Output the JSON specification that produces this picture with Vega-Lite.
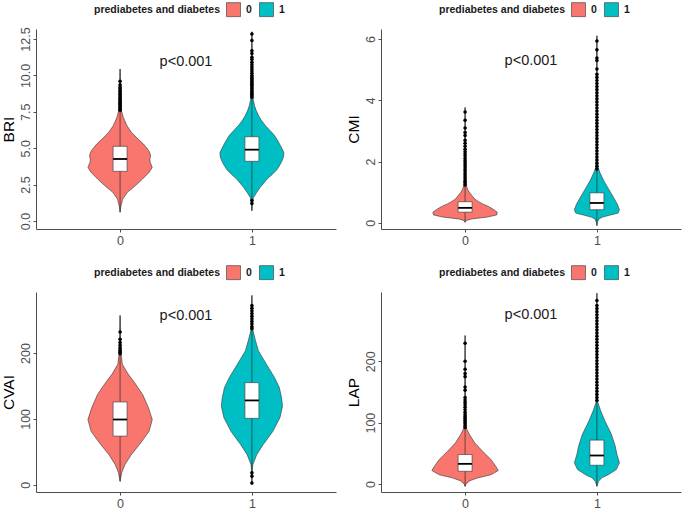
{
"$schema": "https://vega.github.io/schema/vega-lite/v6.json",
"padding": {"left": 0, "top": 2, "right": 5, "bottom": 0},
"datasets": {
"bri_v": [
{"g":0,"v":0.6,"w":0},{"g":0,"v":1.05,"w":0.007},{"g":0,"v":1.51,"w":0.02},{"g":0,"v":1.97,"w":0.055},{"g":0,"v":2.42,"w":0.115},{"g":0,"v":2.88,"w":0.17},{"g":0,"v":3.34,"w":0.22},{"g":0,"v":3.69,"w":0.244},{"g":0,"v":4.03,"w":0.228},{"g":0,"v":4.26,"w":0.226},{"g":0,"v":4.49,"w":0.232},{"g":0,"v":4.75,"w":0.222},{"g":0,"v":4.95,"w":0.208},{"g":0,"v":5.3,"w":0.176},{"g":0,"v":5.63,"w":0.136},{"g":0,"v":6.09,"w":0.086},{"g":0,"v":6.55,"w":0.052},{"g":0,"v":7.12,"w":0.024},{"g":0,"v":7.69,"w":0.007},{"g":0,"v":8.38,"w":0.003},{"g":0,"v":9.5,"w":0.002},{"g":0,"v":10.44,"w":0},
{"g":1,"v":0.7,"w":0},{"g":1,"v":1.2,"w":0.004},{"g":1,"v":1.6,"w":0.011},{"g":1,"v":1.97,"w":0.037},{"g":1,"v":2.3,"w":0.062},{"g":1,"v":2.54,"w":0.084},{"g":1,"v":2.9,"w":0.117},{"g":1,"v":3.2,"w":0.154},{"g":1,"v":3.5,"w":0.187},{"g":1,"v":3.8,"w":0.209},{"g":1,"v":4.1,"w":0.227},{"g":1,"v":4.4,"w":0.24},{"g":1,"v":4.7,"w":0.242},{"g":1,"v":5.0,"w":0.227},{"g":1,"v":5.3,"w":0.209},{"g":1,"v":5.6,"w":0.191},{"g":1,"v":5.9,"w":0.169},{"g":1,"v":6.2,"w":0.139},{"g":1,"v":6.55,"w":0.103},{"g":1,"v":6.9,"w":0.073},{"g":1,"v":7.23,"w":0.051},{"g":1,"v":7.6,"w":0.032},{"g":1,"v":7.92,"w":0.02},{"g":1,"v":8.3,"w":0.011},{"g":1,"v":8.6,"w":0.006},{"g":1,"v":9.5,"w":0.003},{"g":1,"v":11,"w":0.002},{"g":1,"v":13.0,"w":0}
],
"bri_b": [{"g":0,"lo":0.6,"q1":3.41,"med":4.26,"q3":5.13,"hi":10.44},{"g":1,"lo":0.7,"q1":4.1,"med":4.9,"q3":5.79,"hi":13.0}],
"bri_o": [
{"g":0,"v":7.6},{"g":0,"v":7.68},{"g":0,"v":7.76},{"g":0,"v":7.84},{"g":0,"v":7.92},{"g":0,"v":8.0},{"g":0,"v":8.08},{"g":0,"v":8.16},{"g":0,"v":8.24},{"g":0,"v":8.32},{"g":0,"v":8.4},{"g":0,"v":8.5},{"g":0,"v":8.6},{"g":0,"v":8.7},{"g":0,"v":8.8},{"g":0,"v":8.9},{"g":0,"v":9.0},{"g":0,"v":9.1},{"g":0,"v":9.2},{"g":0,"v":9.35},{"g":0,"v":9.6},
{"g":1,"v":1.2},{"g":1,"v":1.4},{"g":1,"v":8.5},{"g":1,"v":8.6},{"g":1,"v":8.7},{"g":1,"v":8.8},{"g":1,"v":8.9},{"g":1,"v":9.0},{"g":1,"v":9.1},{"g":1,"v":9.2},{"g":1,"v":9.3},{"g":1,"v":9.4},{"g":1,"v":9.5},{"g":1,"v":9.6},{"g":1,"v":9.7},{"g":1,"v":9.8},{"g":1,"v":9.9},{"g":1,"v":10.0},{"g":1,"v":10.15},{"g":1,"v":10.3},{"g":1,"v":10.45},{"g":1,"v":10.6},{"g":1,"v":10.75},{"g":1,"v":10.9},{"g":1,"v":11.1},{"g":1,"v":11.25},{"g":1,"v":11.5},{"g":1,"v":11.7},{"g":1,"v":12.4},{"g":1,"v":12.85}
],
"cmi_v": [
{"g":0,"v":0.02,"w":0},{"g":0,"v":0.075,"w":0.007},{"g":0,"v":0.13,"w":0.05},{"g":0,"v":0.19,"w":0.17},{"g":0,"v":0.26,"w":0.24},{"g":0,"v":0.35,"w":0.244},{"g":0,"v":0.46,"w":0.208},{"g":0,"v":0.55,"w":0.17},{"g":0,"v":0.62,"w":0.134},{"g":0,"v":0.7,"w":0.1},{"g":0,"v":0.78,"w":0.073},{"g":0,"v":0.9,"w":0.05},{"g":0,"v":1.0,"w":0.032},{"g":0,"v":1.1,"w":0.018},{"g":0,"v":1.27,"w":0.007},{"g":0,"v":1.5,"w":0.004},{"g":0,"v":2.5,"w":0.002},{"g":0,"v":3.77,"w":0},
{"g":1,"v":-0.09,"w":0},{"g":1,"v":0.02,"w":0.004},{"g":1,"v":0.13,"w":0.015},{"g":1,"v":0.19,"w":0.044},{"g":1,"v":0.24,"w":0.088},{"g":1,"v":0.32,"w":0.161},{"g":1,"v":0.43,"w":0.171},{"g":1,"v":0.62,"w":0.154},{"g":1,"v":0.84,"w":0.125},{"g":1,"v":1.11,"w":0.088},{"g":1,"v":1.38,"w":0.051},{"g":1,"v":1.65,"w":0.022},{"g":1,"v":1.82,"w":0.008},{"g":1,"v":2.2,"w":0.004},{"g":1,"v":4.0,"w":0.002},{"g":1,"v":6.11,"w":0}
],
"cmi_b": [{"g":0,"lo":0.02,"q1":0.35,"med":0.49,"q3":0.69,"hi":3.77},{"g":1,"lo":-0.09,"q1":0.43,"med":0.65,"q3":0.98,"hi":6.11}],
"cmi_o": [
{"g":0,"v":1.24},{"g":0,"v":1.3},{"g":0,"v":1.36},{"g":0,"v":1.43},{"g":0,"v":1.5},{"g":0,"v":1.56},{"g":0,"v":1.63},{"g":0,"v":1.7},{"g":0,"v":1.76},{"g":0,"v":1.83},{"g":0,"v":1.9},{"g":0,"v":1.96},{"g":0,"v":2.03},{"g":0,"v":2.1},{"g":0,"v":2.18},{"g":0,"v":2.25},{"g":0,"v":2.32},{"g":0,"v":2.4},{"g":0,"v":2.5},{"g":0,"v":2.6},{"g":0,"v":2.7},{"g":0,"v":2.85},{"g":0,"v":2.95},{"g":0,"v":3.1},{"g":0,"v":3.35},{"g":0,"v":3.62},
{"g":1,"v":1.76},{"g":1,"v":1.85},{"g":1,"v":1.95},{"g":1,"v":2.05},{"g":1,"v":2.15},{"g":1,"v":2.25},{"g":1,"v":2.35},{"g":1,"v":2.45},{"g":1,"v":2.55},{"g":1,"v":2.65},{"g":1,"v":2.75},{"g":1,"v":2.85},{"g":1,"v":2.95},{"g":1,"v":3.05},{"g":1,"v":3.15},{"g":1,"v":3.25},{"g":1,"v":3.35},{"g":1,"v":3.45},{"g":1,"v":3.55},{"g":1,"v":3.65},{"g":1,"v":3.75},{"g":1,"v":3.85},{"g":1,"v":3.95},{"g":1,"v":4.05},{"g":1,"v":4.15},{"g":1,"v":4.25},{"g":1,"v":4.35},{"g":1,"v":4.45},{"g":1,"v":4.55},{"g":1,"v":4.65},{"g":1,"v":4.75},{"g":1,"v":4.85},{"g":1,"v":5.02},{"g":1,"v":5.3},{"g":1,"v":5.38},{"g":1,"v":5.65},{"g":1,"v":5.94}
],
"cvai_v": [
{"g":0,"v":5,"w":0},{"g":0,"v":18,"w":0.012},{"g":0,"v":30.5,"w":0.037},{"g":0,"v":46,"w":0.086},{"g":0,"v":61,"w":0.147},{"g":0,"v":81,"w":0.22},{"g":0,"v":99,"w":0.244},{"g":0,"v":117,"w":0.215},{"g":0,"v":137,"w":0.171},{"g":0,"v":155,"w":0.11},{"g":0,"v":168,"w":0.061},{"g":0,"v":183,"w":0.017},{"g":0,"v":199.5,"w":0.007},{"g":0,"v":215,"w":0.004},{"g":0,"v":235,"w":0.002},{"g":0,"v":257,"w":0},
{"g":1,"v":0,"w":0},{"g":1,"v":20,"w":0.002},{"g":1,"v":30.5,"w":0.007},{"g":1,"v":46,"w":0.037},{"g":1,"v":61,"w":0.086},{"g":1,"v":81,"w":0.159},{"g":1,"v":102,"w":0.213},{"g":1,"v":119.5,"w":0.232},{"g":1,"v":132,"w":0.225},{"g":1,"v":147.6,"w":0.208},{"g":1,"v":163,"w":0.171},{"g":1,"v":183,"w":0.11},{"g":1,"v":203.6,"w":0.049},{"g":1,"v":219,"w":0.027},{"g":1,"v":235,"w":0.007},{"g":1,"v":250,"w":0.003},{"g":1,"v":287.5,"w":0}
],
"cvai_b": [{"g":0,"lo":5,"q1":73.8,"med":99,"q3":125.7,"hi":257},{"g":1,"lo":0,"q1":100.8,"med":128,"q3":155,"hi":287.5}],
"cvai_o": [
{"g":0,"v":199},{"g":0,"v":201},{"g":0,"v":203},{"g":0,"v":205},{"g":0,"v":208},{"g":0,"v":212},{"g":0,"v":216},{"g":0,"v":221},{"g":0,"v":232},
{"g":1,"v":2.5},{"g":1,"v":13},{"g":1,"v":18},{"g":1,"v":237},{"g":1,"v":240},{"g":1,"v":244},{"g":1,"v":248},{"g":1,"v":252},{"g":1,"v":256},{"g":1,"v":260},{"g":1,"v":264},{"g":1,"v":268},{"g":1,"v":272}
],
"lap_v": [
{"g":0,"v":-4,"w":0},{"g":0,"v":0,"w":0.007},{"g":0,"v":5.4,"w":0.037},{"g":0,"v":10,"w":0.098},{"g":0,"v":15,"w":0.196},{"g":0,"v":22,"w":0.252},{"g":0,"v":29,"w":0.232},{"g":0,"v":40,"w":0.196},{"g":0,"v":53,"w":0.134},{"g":0,"v":67,"w":0.073},{"g":0,"v":81,"w":0.032},{"g":0,"v":92,"w":0.007},{"g":0,"v":110,"w":0.003},{"g":0,"v":150,"w":0.002},{"g":0,"v":242,"w":0},
{"g":1,"v":-4,"w":0},{"g":1,"v":4.3,"w":0.012},{"g":1,"v":10,"w":0.037},{"g":1,"v":15,"w":0.086},{"g":1,"v":23.4,"w":0.147},{"g":1,"v":34.4,"w":0.171},{"g":1,"v":48,"w":0.152},{"g":1,"v":61.7,"w":0.139},{"g":1,"v":81,"w":0.11},{"g":1,"v":102.6,"w":0.061},{"g":1,"v":119,"w":0.029},{"g":1,"v":133,"w":0.007},{"g":1,"v":160,"w":0.003},{"g":1,"v":250,"w":0.002},{"g":1,"v":311,"w":0}
],
"lap_b": [{"g":0,"lo":-4,"q1":20.7,"med":32.8,"q3":48,"hi":242},{"g":1,"lo":-4,"q1":30.5,"med":46.4,"q3":71.5,"hi":311}],
"lap_o": [
{"g":0,"v":92},{"g":0,"v":95},{"g":0,"v":98},{"g":0,"v":101},{"g":0,"v":104},{"g":0,"v":107},{"g":0,"v":110},{"g":0,"v":113},{"g":0,"v":117},{"g":0,"v":121},{"g":0,"v":125},{"g":0,"v":129},{"g":0,"v":133},{"g":0,"v":137},{"g":0,"v":141},{"g":0,"v":153},{"g":0,"v":158},{"g":0,"v":175},{"g":0,"v":180},{"g":0,"v":187},{"g":0,"v":200},{"g":0,"v":229.5},
{"g":1,"v":136},{"g":1,"v":141},{"g":1,"v":146},{"g":1,"v":151},{"g":1,"v":156},{"g":1,"v":161},{"g":1,"v":166},{"g":1,"v":171},{"g":1,"v":176},{"g":1,"v":181},{"g":1,"v":186},{"g":1,"v":191},{"g":1,"v":196},{"g":1,"v":201},{"g":1,"v":206},{"g":1,"v":211},{"g":1,"v":216},{"g":1,"v":221},{"g":1,"v":226},{"g":1,"v":231},{"g":1,"v":236},{"g":1,"v":241},{"g":1,"v":246},{"g":1,"v":251},{"g":1,"v":256},{"g":1,"v":261},{"g":1,"v":266},{"g":1,"v":271},{"g":1,"v":276},{"g":1,"v":281},{"g":1,"v":286},{"g":1,"v":291},{"g":1,"v":299}
]
},
"columns": 2,
"spacing": {"row": 18, "column": 10},
"concat": [
{"width": 300, "height": 200, "layer": [
 {"data": {"name": "bri_v"}, "transform": [{"calculate": "datum.g - datum.w", "as": "lo"}, {"calculate": "datum.g + datum.w", "as": "hi"}],
  "mark": {"type": "area", "orient": "horizontal", "stroke": "#333333", "strokeWidth": 0.6, "opacity": 1},
  "encoding": {
   "y": {"field": "v", "type": "quantitative", "title": "BRI", "scale": {"domain": [-0.55, 13.19], "nice": false, "zero": false}, "axis": {"values": [0, 2.5, 5, 7.5, 10, 12.5], "format": ".1f", "labelOverlap": false}},
   "x": {"field": "lo", "type": "quantitative", "title": null, "stack": null, "scale": {"domain": [-0.6, 1.6], "nice": false, "zero": false}, "axis": {"values": [0, 1], "format": "d"}},
   "x2": {"field": "hi"},
   "color": {"field": "g", "type": "nominal", "scale": {"domain": [0, 1], "range": ["#F8766D", "#00BFC4"]}, "legend": {"orient": "none", "legendX": 58, "legendY": -27, "direction": "horizontal", "titleOrient": "left", "title": "prediabetes and diabetes"}}
  }},
 {"data": {"name": "bri_b"}, "mark": {"type": "rule", "color": "#1a1a1a", "strokeWidth": 0.6},
  "encoding": {"x": {"field": "g", "type": "quantitative", "title": null, "axis": {"values": [0, 1], "format": "d"}}, "y": {"field": "lo", "type": "quantitative", "title": "BRI", "axis": {"values": [0, 2.5, 5, 7.5, 10, 12.5], "format": ".1f", "labelOverlap": false}}, "y2": {"field": "hi"}}},
 {"data": {"name": "bri_b"}, "mark": {"type": "bar", "width": 14, "fill": "white", "stroke": "#333333", "strokeWidth": 0.6},
  "encoding": {"x": {"field": "g", "type": "quantitative", "title": null, "axis": {"values": [0, 1], "format": "d"}}, "y": {"field": "q1", "type": "quantitative", "title": "BRI", "axis": {"values": [0, 2.5, 5, 7.5, 10, 12.5], "format": ".1f", "labelOverlap": false}}, "y2": {"field": "q3"}}},
 {"data": {"name": "bri_b"}, "mark": {"type": "tick", "orient": "horizontal", "size": 14, "thickness": 1.8, "color": "#000000", "opacity": 1},
  "encoding": {"x": {"field": "g", "type": "quantitative", "title": null, "axis": {"values": [0, 1], "format": "d"}}, "y": {"field": "med", "type": "quantitative", "title": "BRI", "axis": {"values": [0, 2.5, 5, 7.5, 10, 12.5], "format": ".1f", "labelOverlap": false}}}},
 {"data": {"name": "bri_o"}, "mark": {"type": "circle", "size": 13, "color": "#000000", "opacity": 1},
  "encoding": {"x": {"field": "g", "type": "quantitative", "title": null, "axis": {"values": [0, 1], "format": "d"}}, "y": {"field": "v", "type": "quantitative", "title": "BRI", "axis": {"values": [0, 2.5, 5, 7.5, 10, 12.5], "format": ".1f", "labelOverlap": false}}}},
 {"data": {"values": [{}]}, "mark": {"type": "text", "fontSize": 14.5, "color": "#1a1a1a", "text": "p<0.001"},
  "encoding": {"x": {"datum": 0.5, "type": "quantitative", "title": null, "axis": {"values": [0, 1], "format": "d"}}, "y": {"datum": 10.9, "type": "quantitative", "title": "BRI", "axis": {"values": [0, 2.5, 5, 7.5, 10, 12.5], "format": ".1f", "labelOverlap": false}}}}
]},
{"width": 300, "height": 200, "layer": [
 {"data": {"name": "cmi_v"}, "transform": [{"calculate": "datum.g - datum.w", "as": "lo"}, {"calculate": "datum.g + datum.w", "as": "hi"}],
  "mark": {"type": "area", "orient": "horizontal", "stroke": "#333333", "strokeWidth": 0.6, "opacity": 1},
  "encoding": {
   "y": {"field": "v", "type": "quantitative", "title": "CMI", "scale": {"domain": [-0.2, 6.33], "nice": false, "zero": false}, "axis": {"values": [0, 2, 4, 6], "format": "d", "labelOverlap": false}},
   "x": {"field": "lo", "type": "quantitative", "title": null, "stack": null, "scale": {"domain": [-0.6, 1.6], "nice": false, "zero": false}, "axis": {"values": [0, 1], "format": "d"}},
   "x2": {"field": "hi"},
   "color": {"field": "g", "type": "nominal", "scale": {"domain": [0, 1], "range": ["#F8766D", "#00BFC4"]}, "legend": {"orient": "none", "legendX": 58, "legendY": -27, "direction": "horizontal", "titleOrient": "left", "title": "prediabetes and diabetes"}}
  }},
 {"data": {"name": "cmi_b"}, "mark": {"type": "rule", "color": "#1a1a1a", "strokeWidth": 0.6},
  "encoding": {"x": {"field": "g", "type": "quantitative", "title": null}, "y": {"field": "lo", "type": "quantitative", "title": "CMI"}, "y2": {"field": "hi"}}},
 {"data": {"name": "cmi_b"}, "mark": {"type": "bar", "width": 14, "fill": "white", "stroke": "#333333", "strokeWidth": 0.6},
  "encoding": {"x": {"field": "g", "type": "quantitative", "title": null}, "y": {"field": "q1", "type": "quantitative", "title": "CMI"}, "y2": {"field": "q3"}}},
 {"data": {"name": "cmi_b"}, "mark": {"type": "tick", "orient": "horizontal", "size": 14, "thickness": 1.8, "color": "#000000", "opacity": 1},
  "encoding": {"x": {"field": "g", "type": "quantitative", "title": null}, "y": {"field": "med", "type": "quantitative", "title": "CMI"}}},
 {"data": {"name": "cmi_o"}, "mark": {"type": "circle", "size": 13, "color": "#000000", "opacity": 1},
  "encoding": {"x": {"field": "g", "type": "quantitative", "title": null}, "y": {"field": "v", "type": "quantitative", "title": "CMI"}}},
 {"data": {"values": [{}]}, "mark": {"type": "text", "fontSize": 14.5, "color": "#1a1a1a", "text": "p<0.001"},
  "encoding": {"x": {"datum": 0.5, "type": "quantitative"}, "y": {"datum": 5.27, "type": "quantitative"}}}
]},
{"width": 300, "height": 200, "layer": [
 {"data": {"name": "cvai_v"}, "transform": [{"calculate": "datum.g - datum.w", "as": "lo"}, {"calculate": "datum.g + datum.w", "as": "hi"}],
  "mark": {"type": "area", "orient": "horizontal", "stroke": "#333333", "strokeWidth": 0.6, "opacity": 1},
  "encoding": {
   "y": {"field": "v", "type": "quantitative", "title": "CVAI", "scale": {"domain": [-11.1, 292.7], "nice": false, "zero": false}, "axis": {"values": [0, 100, 200], "format": "d", "labelOverlap": false}},
   "x": {"field": "lo", "type": "quantitative", "title": null, "stack": null, "scale": {"domain": [-0.6, 1.6], "nice": false, "zero": false}, "axis": {"values": [0, 1], "format": "d"}},
   "x2": {"field": "hi"},
   "color": {"field": "g", "type": "nominal", "scale": {"domain": [0, 1], "range": ["#F8766D", "#00BFC4"]}, "legend": {"orient": "none", "legendX": 58, "legendY": -27, "direction": "horizontal", "titleOrient": "left", "title": "prediabetes and diabetes"}}
  }},
 {"data": {"name": "cvai_b"}, "mark": {"type": "rule", "color": "#1a1a1a", "strokeWidth": 0.6},
  "encoding": {"x": {"field": "g", "type": "quantitative", "title": null}, "y": {"field": "lo", "type": "quantitative", "title": "CVAI"}, "y2": {"field": "hi"}}},
 {"data": {"name": "cvai_b"}, "mark": {"type": "bar", "width": 14, "fill": "white", "stroke": "#333333", "strokeWidth": 0.6},
  "encoding": {"x": {"field": "g", "type": "quantitative", "title": null}, "y": {"field": "q1", "type": "quantitative", "title": "CVAI"}, "y2": {"field": "q3"}}},
 {"data": {"name": "cvai_b"}, "mark": {"type": "tick", "orient": "horizontal", "size": 14, "thickness": 1.8, "color": "#000000", "opacity": 1},
  "encoding": {"x": {"field": "g", "type": "quantitative", "title": null}, "y": {"field": "med", "type": "quantitative", "title": "CVAI"}}},
 {"data": {"name": "cvai_o"}, "mark": {"type": "circle", "size": 13, "color": "#000000", "opacity": 1},
  "encoding": {"x": {"field": "g", "type": "quantitative", "title": null}, "y": {"field": "v", "type": "quantitative", "title": "CVAI"}}},
 {"data": {"values": [{}]}, "mark": {"type": "text", "fontSize": 14.5, "color": "#1a1a1a", "text": "p<0.001"},
  "encoding": {"x": {"datum": 0.5, "type": "quantitative"}, "y": {"datum": 256, "type": "quantitative"}}}
]},
{"width": 300, "height": 200, "layer": [
 {"data": {"name": "lap_v"}, "transform": [{"calculate": "datum.g - datum.w", "as": "lo"}, {"calculate": "datum.g + datum.w", "as": "hi"}],
  "mark": {"type": "area", "orient": "horizontal", "stroke": "#333333", "strokeWidth": 0.6, "opacity": 1},
  "encoding": {
   "y": {"field": "v", "type": "quantitative", "title": "LAP", "scale": {"domain": [-13.1, 313], "nice": false, "zero": false}, "axis": {"values": [0, 100, 200], "format": "d", "labelOverlap": false}},
   "x": {"field": "lo", "type": "quantitative", "title": null, "stack": null, "scale": {"domain": [-0.6, 1.6], "nice": false, "zero": false}, "axis": {"values": [0, 1], "format": "d"}},
   "x2": {"field": "hi"},
   "color": {"field": "g", "type": "nominal", "scale": {"domain": [0, 1], "range": ["#F8766D", "#00BFC4"]}, "legend": {"orient": "none", "legendX": 58, "legendY": -27, "direction": "horizontal", "titleOrient": "left", "title": "prediabetes and diabetes"}}
  }},
 {"data": {"name": "lap_b"}, "mark": {"type": "rule", "color": "#1a1a1a", "strokeWidth": 0.6},
  "encoding": {"x": {"field": "g", "type": "quantitative", "title": null}, "y": {"field": "lo", "type": "quantitative", "title": "LAP"}, "y2": {"field": "hi"}}},
 {"data": {"name": "lap_b"}, "mark": {"type": "bar", "width": 14, "fill": "white", "stroke": "#333333", "strokeWidth": 0.6},
  "encoding": {"x": {"field": "g", "type": "quantitative", "title": null}, "y": {"field": "q1", "type": "quantitative", "title": "LAP"}, "y2": {"field": "q3"}}},
 {"data": {"name": "lap_b"}, "mark": {"type": "tick", "orient": "horizontal", "size": 14, "thickness": 1.8, "color": "#000000", "opacity": 1},
  "encoding": {"x": {"field": "g", "type": "quantitative", "title": null}, "y": {"field": "med", "type": "quantitative", "title": "LAP"}}},
 {"data": {"name": "lap_o"}, "mark": {"type": "circle", "size": 13, "color": "#000000", "opacity": 1},
  "encoding": {"x": {"field": "g", "type": "quantitative", "title": null}, "y": {"field": "v", "type": "quantitative", "title": "LAP"}}},
 {"data": {"values": [{}]}, "mark": {"type": "text", "fontSize": 14.5, "color": "#1a1a1a", "text": "p<0.001"},
  "encoding": {"x": {"datum": 0.5, "type": "quantitative"}, "y": {"datum": 275, "type": "quantitative"}}}
]}
],
"resolve": {"scale": {"color": "independent", "x": "independent", "y": "independent"}, "legend": {"color": "independent"}},
"config": {
 "font": "Liberation Sans",
 "view": {"stroke": null},
 "axis": {"grid": false, "domainColor": "#4D4D4D", "tickColor": "#4D4D4D", "labelColor": "#4D4D4D", "labelFontSize": 12.5, "titleFontSize": 15.5, "titleFontWeight": "normal", "titleColor": "#000000", "tickSize": 3, "labelPadding": 2, "domainWidth": 1, "tickWidth": 1, "labelOverlap": false},
 "axisY": {"titlePadding": 3, "labelPadding": 1, "labelAngle": 270, "labelAlign": "center", "labelBaseline": "bottom"},
 "legend": {"symbolType": "square", "symbolSize": 196, "symbolStrokeColor": "#333333", "symbolStrokeWidth": 0.6, "symbolOpacity": 1, "labelFontWeight": "bold", "labelFontSize": 10.5, "titleFontSize": 10.5, "titleFontWeight": "bold", "labelColor": "#1a1a1a", "titleColor": "#1a1a1a", "titlePadding": 5, "labelOffset": 5, "columnPadding": 6, "titleBaseline": "middle", "titleAnchor": "middle"}
}
}
